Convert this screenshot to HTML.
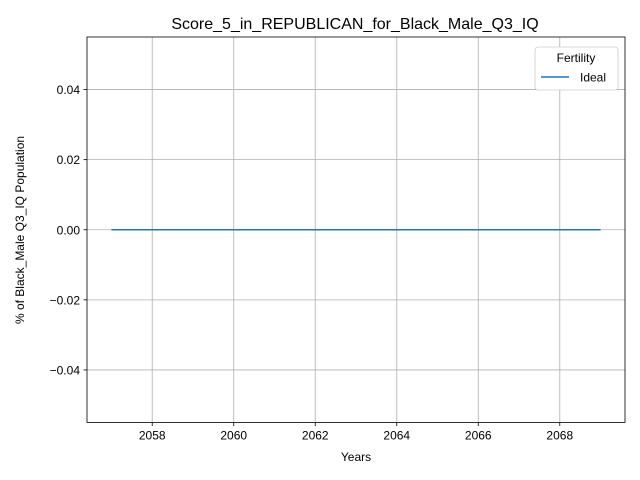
<!DOCTYPE html>
<html><head><meta charset="utf-8"><style>
body{margin:0;background:#fff;}
svg{display:block;font-family:"Liberation Sans","DejaVu Sans",sans-serif;}
</style></head><body>
<svg id="chart" width="640" height="480">
<text x="355" y="29" font-size="16" text-anchor="middle">Score_5_in_REPUBLICAN_for_Black_Male_Q3_IQ</text>
<g id="grid"></g>
<g id="xaxis"></g>
<g id="yaxis"></g>
<g id="series"></g>
<rect x="87" y="37" width="538" height="385.5" fill="none" stroke="#000" stroke-width="0.8"/>
<text x="356" y="461" font-size="12" text-anchor="middle">Years</text>
<text transform="translate(24,230) rotate(-90)" font-size="12" text-anchor="middle">% of Black_Male Q3_IQ Population</text>
<g>
<rect x="535" y="47" width="83" height="43" rx="3" fill="#fff" stroke="#ccc" stroke-width="0.8"/>
<text x="576" y="62" font-size="12" text-anchor="middle">Fertility</text>
<line x1="541" y1="77" x2="569" y2="77" stroke="#1f77b4" stroke-width="1.5"/>
<text x="580" y="81.5" font-size="12">Ideal</text>
</g>
</svg>
<script>
const years=[2057,2058,2059,2060,2061,2062,2063,2064,2065,2066,2067,2068,2069];
const idealValues=[0,0,0,0,0,0,0,0,0,0,0,0,0];
const xTicks=[2058,2060,2062,2064,2066,2068];
const yTicks=[-0.04,-0.02,0,0.02,0.04];
const yTickLabels=["\u22120.04","\u22120.02","0.00","0.02","0.04"];
const L=87,R=625,T=37,B=422.5;
const xmin=2056.4,xmax=2069.6,ymin=-0.055,ymax=0.055;
const xs=v=>L+(v-xmin)/(xmax-xmin)*(R-L);
const ys=v=>B-(v-ymin)/(ymax-ymin)*(B-T);
const NS="http://www.w3.org/2000/svg";
function mk(t,a,p){const e=document.createElementNS(NS,t);for(const k in a)e.setAttribute(k,a[k]);p.appendChild(e);return e;}
const g=document.getElementById('grid'),xa=document.getElementById('xaxis'),ya=document.getElementById('yaxis'),s=document.getElementById('series');
xTicks.forEach(v=>{const x=xs(v);
const gl=mk('line',{x1:x,x2:x,y1:T,y2:B,stroke:'#b0b0b0','stroke-width':0.8},g);


const tk=mk('line',{x1:x,x2:x,y1:B,y2:B+3.5,stroke:'#000','stroke-width':0.8},xa);


const tl=mk('text',{x:x,y:B+17,'font-size':12,'text-anchor':'middle'},xa);tl.textContent=v;

});
yTicks.forEach((v,i)=>{const y=ys(v);
const gl=mk('line',{x1:L,x2:R,y1:y,y2:y,stroke:'#b0b0b0','stroke-width':0.8},g);


const tk=mk('line',{x1:L-3.5,x2:L,y1:y,y2:y,stroke:'#000','stroke-width':0.8},ya);


const tl=mk('text',{x:L-7,y:y+4.5,'font-size':12,'text-anchor':'end'},ya);tl.textContent=yTickLabels[i];

});
const pts=years.map((v,i)=>xs(v)+','+ys(idealValues[i])).join(' ');
const pl=mk('polyline',{points:pts,fill:'none',stroke:'#1f77b4','stroke-width':1.5},s);


</script>
</body></html>
